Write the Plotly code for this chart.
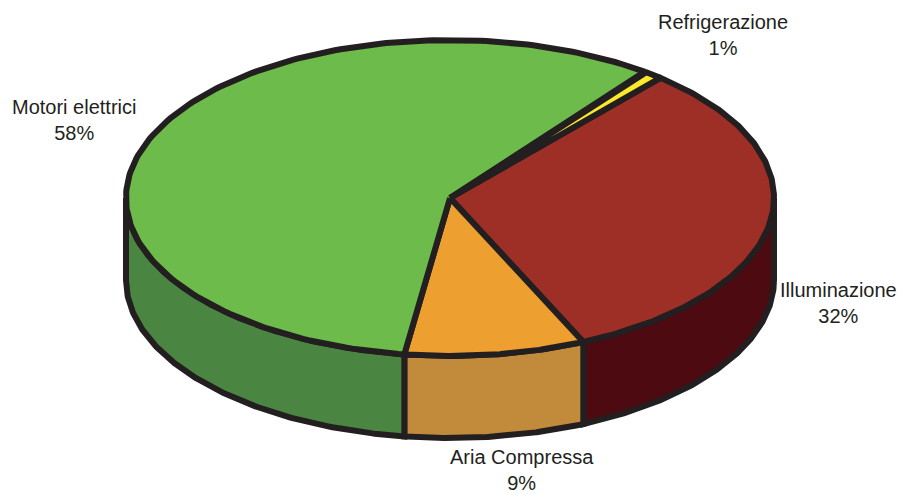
import numpy as np
import plotly.graph_objects as go

# Data
labels = ["Illuminazione", "Aria Compressa", "Motori elettrici", "Refrigerazione"]
values = [32, 9, 58, 1]

# Style
top_colors = ["#9e2f27", "#eda030", "#6cbb4b", "#fde92b"]
side_colors = ["#4d0a10", "#c18b3b", "#4a8641", "#c9b820"]
label_nudge = [(68, 1), (26, 34), (-77, -18), (70, -40)]  # pixel offsets from slice rim

# Geometry (pixel space)
W, H = 907, 494
cx, cy = 450, 198
rx, ry = 324, 158
depth = 82
start_deg = -49.5
outline = "#231f20"
lw = 6

total = sum(values)
fracs = np.array(values) / total
bounds = start_deg + 360 * np.concatenate([[0], np.cumsum(fracs)])

def arc(t0, t1, n=200):
    t = np.radians(np.linspace(t0, t1, n))
    return cx + rx * np.cos(t), cy + ry * np.sin(t)

fig = go.Figure()

# Side walls (front half: angles 0..180 mod 360)
for i in range(len(values)):
    t0, t1 = bounds[i], bounds[i + 1]
    for k in (-360, 0, 360):
        a0 = max(t0, 0 + k)
        a1 = min(t1, 180 + k)
        if a1 > a0:
            x, y = arc(a0, a1)
            xs = np.concatenate([x, x[::-1], [x[0]]])
            ys = np.concatenate([y, (y + depth)[::-1], [y[0]]])
            fig.add_trace(go.Scatter(x=xs, y=ys, mode="lines", fill="toself",
                                     fillcolor=side_colors[i],
                                     line=dict(color=outline, width=lw),
                                     hoverinfo="skip", showlegend=False))

# Top slices
for i in range(len(values)):
    t0, t1 = bounds[i], bounds[i + 1]
    x, y = arc(t0, t1)
    xs = np.concatenate([[cx], x, [cx]])
    ys = np.concatenate([[cy], y, [cy]])
    fig.add_trace(go.Scatter(x=xs, y=ys, mode="lines", fill="toself",
                             fillcolor=top_colors[i],
                             line=dict(color=outline, width=lw),
                             hoverinfo="skip", showlegend=False))

# Labels
for i in range(len(values)):
    m = np.radians((bounds[i] + bounds[i + 1]) / 2)
    lx = cx + rx * np.cos(m)
    ly = cy + ry * np.sin(m)
    if np.sin(m) > 0:
        ly += depth
    dx, dy = label_nudge[i]
    fig.add_annotation(x=lx + dx, y=ly + dy, text=f"{labels[i]}<br>{values[i]}%",
                       showarrow=False, xanchor="center", yanchor="middle",
                       font=dict(family="Liberation Sans, Arial", size=20, color=outline))

fig.update_layout(width=W, height=H, margin=dict(l=0, r=0, t=0, b=0),
                  paper_bgcolor="white", plot_bgcolor="white",
                  xaxis=dict(range=[0, W], visible=False, fixedrange=True),
                  yaxis=dict(range=[H, 0], visible=False, fixedrange=True))
fig.write_html("out.html")
